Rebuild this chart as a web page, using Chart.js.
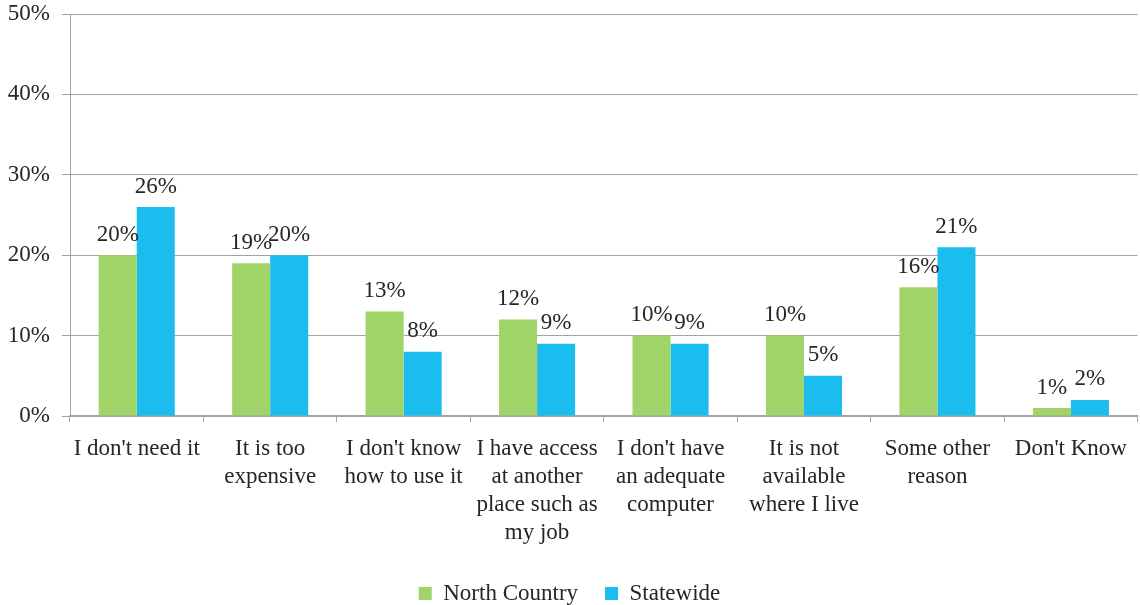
<!DOCTYPE html>
<html>
<head>
<meta charset="utf-8">
<script src="https://cdn.jsdelivr.net/npm/chart.js@4/dist/chart.umd.min.js"></script>
<style>
  html, body { margin: 0; padding: 0; background: #fff; }
  #wrap { width: 1140px; height: 605px; }
</style>
</head>
<body>
<div id="wrap"><canvas id="chart"></canvas></div>
<script>
// reasons for not having internet at home
var reasons = [
  "I don't need it",
  ["It is too", "expensive"],
  ["I don't know", "how to use it"],
  ["I have access", "at another", "place such as", "my job"],
  ["I don't have", "an adequate", "computer"],
  ["It is not", "available", "where I live"],
  ["Some other", "reason"],
  "Don't Know"
];
var northCountry = [20, 19, 13, 12, 10, 10, 16, 1];
var statewide = [26, 20, 8, 9, 9, 5, 21, 2];
var yTicks = [0, 10, 20, 30, 40, 50];

var FONT = "'Liberation Serif', 'Times New Roman', serif";
var SIZE = 23;
var TEXT = '#262626';
var GRID = '#a3a3a3';

// prints the percent over each bar
var barLabels = {
  id: 'barLabels',
  afterDatasetsDraw: function(chart) {
    var ctx = chart.ctx;
    ctx.save();
    ctx.font = SIZE + 'px ' + FONT;
    ctx.fillStyle = TEXT;
    ctx.textAlign = 'center';
    ctx.textBaseline = 'bottom';
    chart.data.datasets.forEach(function(ds, i) {
      chart.getDatasetMeta(i).data.forEach(function(bar, j) {
        ctx.fillText(ds.data[j] + '%', bar.x, bar.y - 9);
      });
    });
    ctx.restore();
  }
};

Chart.defaults.font.family = FONT;
Chart.defaults.color = TEXT;

new Chart(document.getElementById('chart'), {
  type: 'bar',
  data: {
    labels: reasons,
    datasets: [{
      label: 'North Country',
      data: northCountry,
      backgroundColor: '#a0d468'
    }, {
      label: 'Statewide',
      data: statewide,
      backgroundColor: '#1bbdee'
    }]
  },
  options: {
    responsive: true,
    maintainAspectRatio: false,
    animation: false,
    layout: { padding: { top: 14, right: 1, left: 0, bottom: -10 } },
    datasets: {
      bar: { categoryPercentage: 0.57, barPercentage: 1 }
    },
    plugins: {
      tooltip: { enabled: false },
      legend: {
        position: 'bottom',
        labels: {
          font: { size: SIZE },
          boxWidth: 13,
          boxHeight: 13,
          padding: 27
        }
      }
    },
    scales: {
      x: {
        offset: true,
        grid: {
          offset: true,
          drawOnChartArea: false,
          tickLength: 6,
          color: GRID
        },
        border: { color: GRID, width: 2 },
        ticks: { font: { size: SIZE, lineHeight: 1.22 }, padding: 13, maxRotation: 0, autoSkip: false },
        afterFit: function(scale) { scale.height = 139; }
      },
      y: {
        min: 0,
        max: 50,
        afterBuildTicks: function(scale) {
          scale.ticks = yTicks.map(function(v) { return { value: v }; });
        },
        grid: { color: GRID, tickLength: 8 },
        border: { color: GRID, width: 1 },
        ticks: {
          font: { size: SIZE },
          padding: 12,
          callback: function(v) { return v + '%'; }
        },
        afterFit: function(scale) {
          scale.width = 70;
          scale.paddingTop = 0;
          scale.paddingBottom = 0;
        }
      }
    }
  },
  plugins: [barLabels]
});
</script>
</body>
</html>
